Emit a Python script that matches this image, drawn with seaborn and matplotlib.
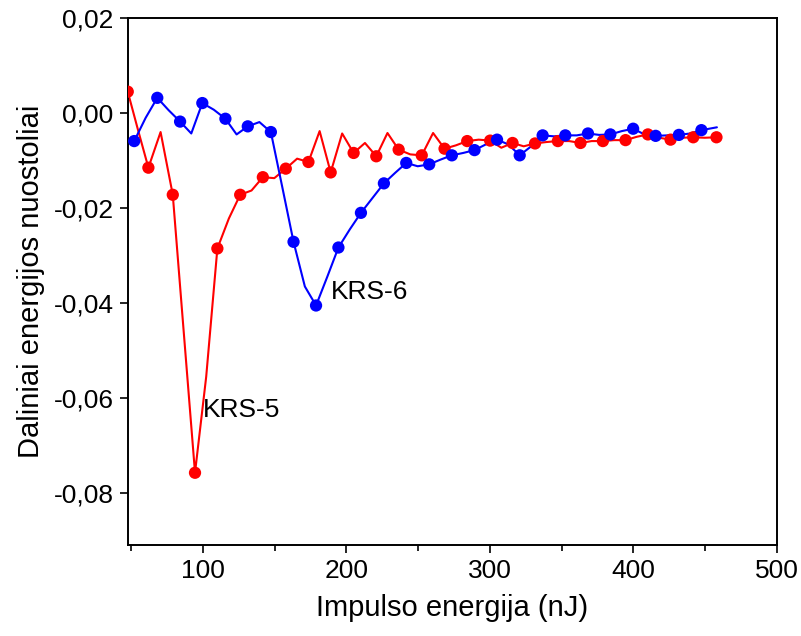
import matplotlib
matplotlib.use("Agg")
import matplotlib.pyplot as plt
import numpy as np
import pandas as pd
import seaborn as sns
from matplotlib.ticker import FuncFormatter, MultipleLocator

# KRS-5 (red): measured points shown with markers
red_x = [47.5, 61.9, 78.9, 94.4, 110.0, 125.9, 141.7, 157.7, 173.5, 189.0,
         205.0, 220.8, 236.4, 252.5, 268.4, 284.2, 300.2, 315.8, 331.5,
         347.4, 363.2, 378.8, 394.6, 410.2, 426.0, 441.8, 458.0]
red_y = [0.0045, -0.0115, -0.0172, -0.0757, -0.0285, -0.0172, -0.0135,
         -0.0117, -0.0103, -0.0125, -0.0084, -0.0091, -0.0077, -0.0089,
         -0.0075, -0.0059, -0.0058, -0.0063, -0.0064, -0.0059, -0.0063,
         -0.0059, -0.0057, -0.0045, -0.0056, -0.0051, -0.0051]
# KRS-5 curve values between the markers
red_mid_x = [54.7, 70.4, 86.6, 102.2, 118.0, 133.8, 149.7, 165.6, 181.3,
             197.0, 212.9, 228.6, 244.5, 260.4, 276.3, 292.2, 308.0, 323.6,
             339.5, 355.3, 371.0, 386.7, 402.4, 418.1, 433.9, 449.9]
red_mid_y = [-0.0036, -0.0040, -0.0463, -0.0555, -0.0222, -0.0163, -0.0137,
             -0.0096, -0.0038, -0.0043, -0.0063, -0.0042, -0.0087, -0.0042,
             -0.0068, -0.0056, -0.0073, -0.0070, -0.0061, -0.0059, -0.0059,
             -0.0057, -0.0050, -0.0052, -0.0052, -0.0052]

# KRS-6 (blue)
blue_x = [52.0, 68.1, 84.0, 99.5, 115.6, 131.2, 147.3, 163.1, 178.8, 194.4,
          210.1, 226.1, 241.7, 257.7, 273.5, 289.3, 305.0, 320.8, 336.8,
          352.6, 368.4, 384.0, 399.9, 415.6, 431.8, 447.5]
blue_y = [-0.0059, 0.0032, -0.0018, 0.0021, -0.0012, -0.0028, -0.0040,
          -0.0271, -0.0405, -0.0283, -0.0210, -0.0148, -0.0105, -0.0108,
          -0.0089, -0.0078, -0.0056, -0.0089, -0.0047, -0.0047, -0.0043,
          -0.0045, -0.0033, -0.0048, -0.0046, -0.0036]
blue_mid_x = [60.0, 76.0, 91.8, 107.5, 123.4, 139.3, 155.2, 171.0, 186.7,
              202.3, 218.1, 233.9, 249.7, 265.6, 281.4, 297.2, 312.9, 328.8,
              344.7, 360.5, 376.2, 392.0, 407.8, 423.7, 439.7, 458.3]
blue_mid_y = [-0.0010, 0.0006, -0.0043, 0.0007, -0.0045, -0.0019, -0.0155,
              -0.0365, -0.0344, -0.0245, -0.0179, -0.0126, -0.0112, -0.0098,
              -0.0084, -0.0066, -0.0066, -0.0070, -0.0049, -0.0047, -0.0046,
              -0.0038, -0.0045, -0.0047, -0.0043, -0.0030]

RED = "#ff0000"
BLUE = "#0000ff"

pts = pd.concat([
    pd.DataFrame({"x": red_x, "y": red_y, "s": "KRS-5"}),
    pd.DataFrame({"x": blue_x, "y": blue_y, "s": "KRS-6"}),
])
curve = pd.concat([
    pd.DataFrame({"x": red_x + red_mid_x, "y": red_y + red_mid_y, "s": "KRS-5"}),
    pd.DataFrame({"x": blue_x + blue_mid_x, "y": blue_y + blue_mid_y, "s": "KRS-6"}),
]).sort_values(["s", "x"])

sns.set_style("ticks")
plt.rcParams["font.family"] = ["Liberation Sans", "DejaVu Sans"]
for key in ("text.color", "axes.labelcolor", "xtick.color", "ytick.color"):
    plt.rcParams[key] = "black"

fig = plt.figure(figsize=(8.01, 6.36), dpi=100)
ax = fig.add_axes([127.6 / 801, 1 - 545 / 636, (776.7 - 127.6) / 801,
                   (545 - 18) / 636])

pal = {"KRS-5": RED, "KRS-6": BLUE}
sns.lineplot(data=curve, x="x", y="y", hue="s", palette=pal, sort=False,
             estimator=None, linewidth=1.5, legend=False, ax=ax)
sns.scatterplot(data=pts, x="x", y="y", hue="s", palette=pal, s=78,
                linewidth=0, legend=False, ax=ax, zorder=3)

ax.set_xlim(47.4, 500)
ax.set_ylim(-0.0909, 0.02)
ax.xaxis.set_major_locator(MultipleLocator(100))
ax.xaxis.set_minor_locator(MultipleLocator(50))
ax.yaxis.set_major_locator(MultipleLocator(0.02))
ax.yaxis.set_major_formatter(
    FuncFormatter(lambda v, p: f"{v:.2f}".replace(".", ",").replace("\u2212", "-")))
ax.tick_params(axis="both", which="major", direction="out", length=6,
               width=1.2, labelsize=19, pad=4)
ax.tick_params(axis="x", which="minor", direction="out", length=4, width=1.2)
for sp in ax.spines.values():
    sp.set_visible(True)
    sp.set_linewidth(1.4)
    sp.set_color("black")

ax.set_xlabel("Impulso energija (nJ)", fontsize=21, labelpad=8)
ax.set_ylabel("Daliniai energijos nuostoliai", fontsize=21, labelpad=6)

ax.text(189.1, -0.0376, "KRS-6", fontsize=19, va="center", ha="left")
ax.text(99.8, -0.0624, "KRS-5", fontsize=19, va="center", ha="left")

fig.savefig("out.png", dpi=100)
